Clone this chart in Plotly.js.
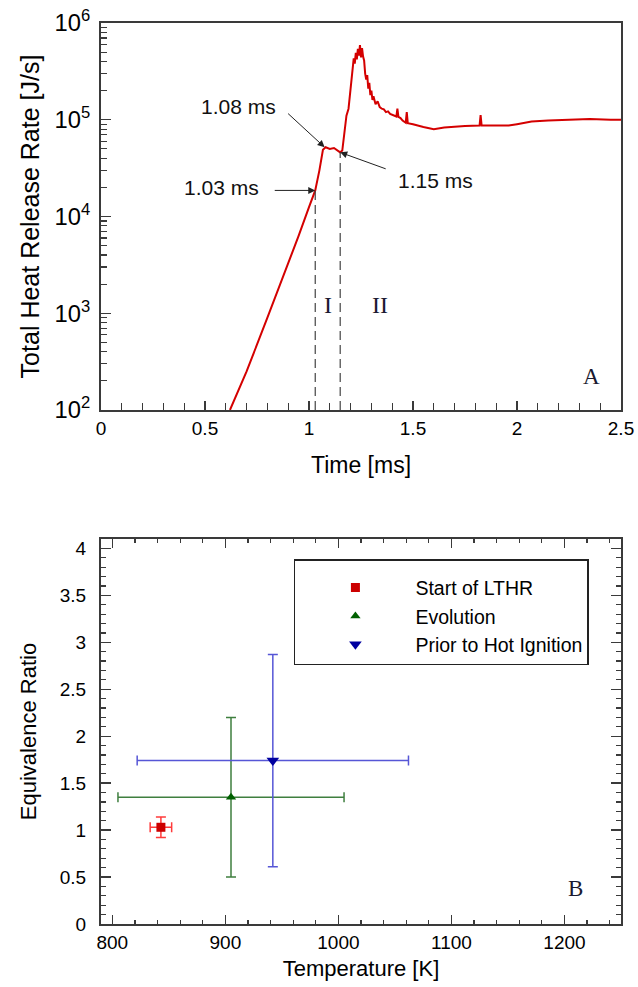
<!DOCTYPE html>
<html>
<head>
<meta charset="utf-8">
<script src="https://cdn.plot.ly/plotly-3.0.1.min.js"></script>
<style>html,body{margin:0;padding:0;background:#fff;}#chart{width:638px;height:987px;}</style>
</head>
<body>
<div id="chart"></div>
<script>
// ---- Panel A data: total heat release rate vs time ----
const time = [0.62, 0.70, 0.80, 0.90, 0.95, 1.00, 1.03, 1.05, 1.067, 1.08, 1.10, 1.12, 1.14, 1.15, 1.16, 1.17, 1.18, 1.19, 1.20, 1.21, 1.215, 1.22, 1.225, 1.23, 1.235, 1.24, 1.245, 1.25, 1.255, 1.26, 1.265, 1.27, 1.275, 1.28, 1.285, 1.29, 1.295, 1.30, 1.305, 1.31, 1.32, 1.33, 1.34, 1.35, 1.36, 1.37, 1.38, 1.39, 1.40, 1.41, 1.42, 1.425, 1.43, 1.44, 1.45, 1.465, 1.47, 1.475, 1.50, 1.55, 1.60, 1.65, 1.70, 1.75, 1.82, 1.825, 1.83, 1.90, 1.96, 2.00, 2.07, 2.15, 2.25, 2.35, 2.45, 2.50];
const heatRelease = [100, 250, 900, 3200, 6300, 12500, 18600, 30000, 49000, 52000, 50000, 51000, 47000, 46000, 48000, 70000, 110000, 130000, 220000, 360000, 430000, 380000, 490000, 420000, 540000, 460000, 590000, 440000, 550000, 450000, 410000, 300000, 260000, 290000, 210000, 240000, 180000, 200000, 160000, 175000, 145000, 155000, 135000, 130000, 128000, 120000, 122000, 115000, 112000, 110000, 108000, 130000, 107000, 104000, 98000, 93000, 120000, 92000, 90000, 84000, 80000, 83000, 85000, 86000, 87000, 112000, 87000, 87000, 87000, 90000, 96000, 98000, 100000, 102000, 100000, 100000];
const markTimes = [1.03, 1.15];
const markValues = [18600, 46000];
const markLabels = ['1.03 ms', '1.08 ms', '1.15 ms'];
const regionLabels = ['I', 'II'];

// ---- Panel B data ----
const categories = ['Start of LTHR', 'Evolution', 'Prior to Hot Ignition'];
const temperature = [843, 905, 942];
const temperatureErr = [9.5, 100, 120];
const equivRatio = [1.03, 1.35, 1.74];
const equivRatioErr = [0.11, 0.85, 1.13];

const markerColors = ['#cc0000', '#006000', '#0000a0'];
const errColors = ['#ff3b3b', '#3f7f3f', '#5656d6'];
const symbols = ['square', 'triangle-up', 'triangle-down'];
const sizes = [9, 9, 11];

const FONT = 'Arial, "Liberation Sans", sans-serif';
const SERIF = '"Times New Roman", "Liberation Serif", serif';
const AX = '#3a3a3a';

const traces = [];
traces.push({
  x: time, y: heatRelease, xaxis: 'x', yaxis: 'y', mode: 'lines',
  line: {color: '#d40000', width: 2}, showlegend: false, hoverinfo: 'skip'
});
for (let i = 0; i < markTimes.length; i++) {
  traces.push({
    x: [markTimes[i], markTimes[i]], y: [100, markValues[i]], xaxis: 'x', yaxis: 'y',
    mode: 'lines', line: {color: '#444', width: 1.2, dash: '9px,5px'}, showlegend: false, hoverinfo: 'skip'
  });
}
for (let i = 0; i < categories.length; i++) {
  traces.push({
    x: [temperature[i]], y: [equivRatio[i]], xaxis: 'x2', yaxis: 'y2', mode: 'markers',
    name: categories[i],
    marker: {symbol: symbols[i], size: sizes[i], color: markerColors[i]},
    error_x: {type: 'data', array: [temperatureErr[i]], color: errColors[i], thickness: 1.5, width: 5},
    error_y: {type: 'data', array: [equivRatioErr[i]], color: errColors[i], thickness: 1.5, width: 5}
  });
}

const lg = v => Math.log10(v);
const annotations = [
  // arrows
  {xref: 'x', yref: 'y', x: markTimes[0], y: lg(markValues[0]), ax: -42, ay: 0, text: '', showarrow: true, arrowhead: 2, arrowsize: 1.4, arrowwidth: 1, arrowcolor: '#222'},
  {xref: 'x', yref: 'y', x: 1.075, y: lg(52000), ax: -38, ay: -35, text: '', showarrow: true, arrowhead: 2, arrowsize: 1.4, arrowwidth: 1, arrowcolor: '#222'},
  {xref: 'x', yref: 'y', x: markTimes[1], y: lg(markValues[1]), ax: 47, ay: 17, text: '', showarrow: true, arrowhead: 2, arrowsize: 1.4, arrowwidth: 1, arrowcolor: '#222'},
  // labels
  {xref: 'x', yref: 'y', x: 0.581, y: 4.295, text: markLabels[0], showarrow: false, font: {family: FONT, size: 21, color: '#111'}},
  {xref: 'x', yref: 'y', x: 0.662, y: 5.142, text: markLabels[1], showarrow: false, font: {family: FONT, size: 21, color: '#111'}},
  {xref: 'x', yref: 'y', x: 1.607, y: 4.367, text: markLabels[2], showarrow: false, font: {family: FONT, size: 21, color: '#111'}},
  {xref: 'x', yref: 'y', x: 1.089, y: 3.085, text: regionLabels[0], showarrow: false, font: {family: SERIF, size: 24, color: '#1a1a30'}},
  {xref: 'x', yref: 'y', x: 1.339, y: 3.085, text: regionLabels[1], showarrow: false, font: {family: SERIF, size: 24, color: '#1a1a30'}},
  {xref: 'x', yref: 'y', x: 2.356, y: 2.35, text: 'A', showarrow: false, font: {family: SERIF, size: 23, color: '#1a1a30'}},
  {xref: 'x2', yref: 'y2', x: 1210, y: 0.383, text: 'B', showarrow: false, font: {family: SERIF, size: 23, color: '#1a1a30'}}
];

const layout = {
  width: 638, height: 987,
  margin: {l: 101, r: 17, t: 23, b: 63},
  paper_bgcolor: '#fff', plot_bgcolor: '#fff',
  font: {family: FONT, color: '#000', size: 19},
  showlegend: true,
  legend: {
    x: 0.371, y: 0.405, xanchor: 'left', yanchor: 'top',
    bordercolor: '#222', borderwidth: 1.5, bgcolor: '#fff',
    font: {family: FONT, size: 19.5, color: '#000'},
    title: {text: ' ', font: {size: 6}},
    itemwidth: 110, tracegroupgap: 0
  },
  xaxis: {
    domain: [0, 1], anchor: 'y', range: [0, 2.5], dtick: 0.5, tick0: 0,
    ticks: 'inside', ticklen: 9, tickwidth: 1.3, tickcolor: AX,
    minor: {dtick: 0.1, ticks: 'inside', ticklen: 7, tickwidth: 1.2, tickcolor: AX, showgrid: false},
    showline: true, linecolor: AX, linewidth: 2, mirror: true,
    showgrid: false, zeroline: false,
    tickfont: {size: 19},
    title: {text: 'Time [ms]', font: {size: 23}, standoff: 19}
  },
  yaxis: {
    domain: [0.5705, 1], anchor: 'x', type: 'log', range: [2, 6], dtick: 1,
    exponentformat: 'power', showexponent: 'all',
    ticks: 'inside', ticklen: 10, tickwidth: 1.3, tickcolor: AX,
    minor: {ticks: 'inside', ticklen: 6, tickwidth: 1.2, tickcolor: AX, showgrid: false},
    showline: true, linecolor: AX, linewidth: 2, mirror: true,
    showgrid: false, zeroline: false,
    tickfont: {size: 19}, ticklabelstandoff: 5,
    title: {text: 'Total Heat Release Rate [J/s]', font: {size: 25}, standoff: 8}
  },
  xaxis2: {
    domain: [0, 1], anchor: 'y2', range: [790, 1250], dtick: 100, tick0: 800,
    ticks: 'inside', ticklen: 9, tickwidth: 1.3, tickcolor: AX,
    minor: {dtick: 20, ticks: 'inside', ticklen: 4, tickwidth: 1.2, tickcolor: AX, showgrid: false},
    showline: true, linecolor: AX, linewidth: 2, mirror: 'ticks',
    showgrid: false, zeroline: false,
    tickfont: {size: 19},
    title: {text: 'Temperature [K]', font: {size: 22}, standoff: 9}
  },
  yaxis2: {
    domain: [0, 0.4273], anchor: 'x2', range: [0, 4.1], dtick: 0.5, tick0: 0,
    ticks: 'inside', ticklen: 10, tickwidth: 1.3, tickcolor: AX,
    minor: {dtick: 0.1, ticks: 'inside', ticklen: 5, tickwidth: 1.2, tickcolor: AX, showgrid: false},
    showline: true, linecolor: AX, linewidth: 2, mirror: 'ticks',
    showgrid: false, zeroline: false,
    tickfont: {size: 19}, ticklabelstandoff: 9,
    title: {text: 'Equivalence Ratio', font: {size: 22}, standoff: 17}
  },
  annotations: annotations
};

Plotly.newPlot('chart', traces, layout, {staticPlot: true, displayModeBar: false});
</script>
</body>
</html>
